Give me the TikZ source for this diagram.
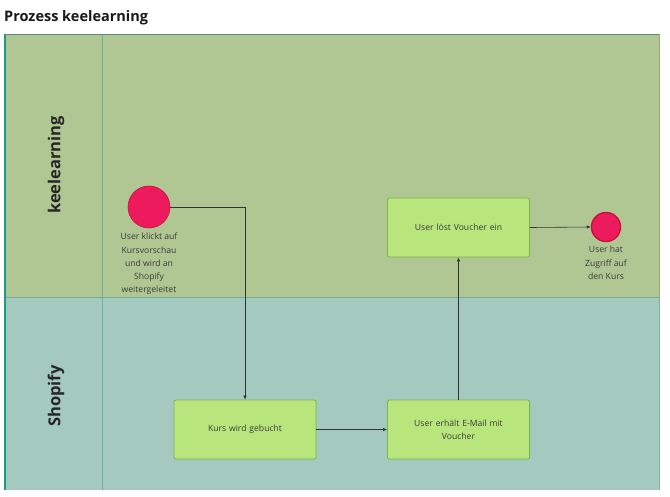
\documentclass[tikz,border=0pt]{standalone}
\usepackage{fontspec}
\setmainfont{Open Sans}
\usetikzlibrary{arrows.meta}
\definecolor{topLane}{HTML}{B0C794}
\definecolor{botLane}{HTML}{A4C9BE}
\definecolor{laneLine}{HTML}{6FAF9A}
\definecolor{edgeTeal}{HTML}{1E9A8A}
\definecolor{boxFill}{HTML}{B9E67C}
\definecolor{boxLine}{HTML}{78B54A}
\definecolor{evFill}{HTML}{EE1A5E}
\definecolor{evLine}{HTML}{C8103E}
\definecolor{txt}{HTML}{3A3A3A}
\begin{document}
\begin{tikzpicture}[x=1pt,y=-1pt,
  task/.style={draw=boxLine, line width=0.8pt, fill=boxFill, rounded corners=2pt, minimum width=142pt, minimum height=59pt, align=center, font=\fontsize{8.6}{13}\selectfont, text=txt, inner sep=2pt, text width=130pt},
  startev/.style={circle, draw=evLine, line width=0.6pt, fill=evFill, minimum size=42pt, inner sep=0pt},
  endev/.style={circle, draw=evLine, line width=1.4pt, fill=evFill, minimum size=29pt, inner sep=0pt},
  evlabel/.style={align=center, font=\fontsize{8.6}{13.3}\selectfont, text=txt, inner sep=0pt},
  flow/.style={draw=black!80, line width=0.6pt, -{Latex[length=4pt,width=3.5pt]}},
  lanelabel/.style={rotate=90, font=\bfseries\fontsize{16.5}{18}\selectfont, text=black!85}
]
\useasboundingbox (0,0) rectangle (670,496);
\fill[white] (0,0) rectangle (670,496);
% title
\node[anchor=west, font=\bfseries\fontsize{14.5}{16}\selectfont, inner sep=0pt, text=black!90] (title) at (4,18) {Prozess keelearning};
% lanes
\fill[topLane] (5,34) rectangle (659,297);
\fill[botLane] (5,297) rectangle (659,490);
\draw[laneLine, line width=0.8pt] (5,297) -- (659,297);
\draw[laneLine, line width=0.6pt] (102,34) -- (102,490);
\draw[laneLine!80!black, line width=0.6pt] (5,34) -- (659,34);
\draw[topLane!85!black, line width=0.5pt] (659,34) -- (659,297);
\draw[botLane!85!black, line width=0.5pt] (659,297) -- (659,490);
\draw[edgeTeal, line width=1.5pt] (5,34) -- (5,490);
\node[lanelabel] (l1) at (56,165) {keelearning};
\node[lanelabel] (l2) at (56,396) {Shopify};
% nodes
\node[startev] (start) at (149,207) {};
\node[evlabel, anchor=north] (startlbl) at (149,233) {User klickt auf\\Kursvorschau\\und wird an\\Shopify\\weitergeleitet};
\node[task] (buch) at (245,429.5) {Kurs wird gebucht};
\node[task] (mail) at (458.5,429.5) {User erhält E-Mail mit\\Voucher};
\node[task] (loest) at (458.5,227.5) {User löst Voucher ein};
\node[endev] (end) at (606,227) {};
\node[evlabel, anchor=north] (endlbl) at (606,246) {User hat\\Zugriff auf\\den Kurs};
% flows
\draw[flow] (start.east) -| (buch.north);
\draw[flow] (buch.east) -- (mail.west);
\draw[flow] (mail.north) -- (loest.south);
\draw[flow] (loest.east) -- (end.west);
\end{tikzpicture}
\end{document}
